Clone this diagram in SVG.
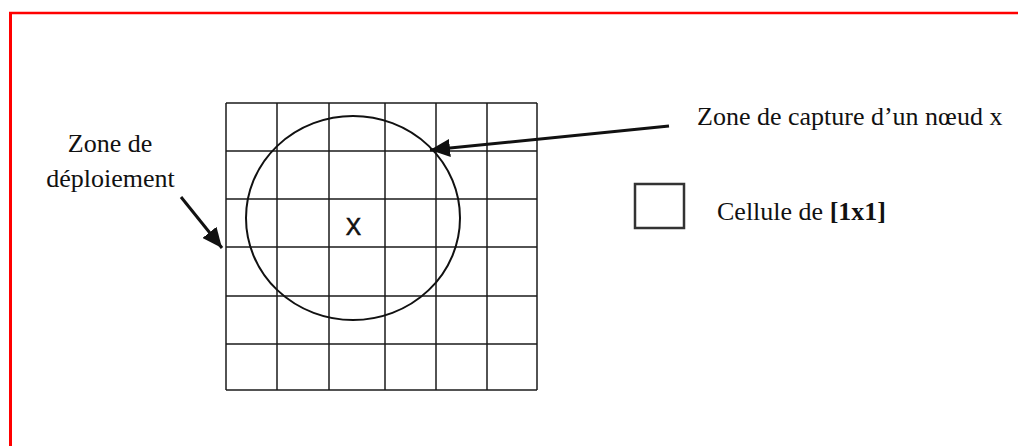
<svg xmlns="http://www.w3.org/2000/svg" width="1018" height="446" viewBox="0 0 1018 446">
  <style>
    .serif { font-family: "Liberation Serif", "Times New Roman", serif; font-size: 26px; fill: #111; }
    .grid line { stroke: #1a1a1a; stroke-width: 1.5; }
    .conn { stroke: #111; stroke-width: 3; fill: none; }
  </style>
  <defs>
    <marker id="ah" markerUnits="userSpaceOnUse" markerWidth="22" markerHeight="18" refX="20" refY="9" orient="auto">
      <path d="M0,0 L20,9 L0,18 Z" fill="#111"/>
    </marker>
  </defs>
  <rect width="1018" height="446" fill="#fff"/>
  <g id="frame">
    <line x1="9" y1="13" x2="1018" y2="13" stroke="#ff0000" stroke-width="2.6"/>
    <line x1="10.5" y1="12" x2="10.5" y2="446" stroke="#ff0000" stroke-width="3"/>
  </g>
  <g id="grid" class="grid">
    <line x1="226" y1="103" x2="226" y2="390"/>
    <line x1="277" y1="103" x2="277" y2="390"/>
    <line x1="329" y1="103" x2="329" y2="390"/>
    <line x1="385" y1="103" x2="385" y2="390"/>
    <line x1="436" y1="103" x2="436" y2="390"/>
    <line x1="487" y1="103" x2="487" y2="390"/>
    <line x1="537" y1="103" x2="537" y2="390"/>
    <line x1="226" y1="103" x2="537" y2="103"/>
    <line x1="226" y1="151" x2="537" y2="151"/>
    <line x1="226" y1="199" x2="537" y2="199"/>
    <line x1="226" y1="247" x2="537" y2="247"/>
    <line x1="226" y1="296" x2="537" y2="296"/>
    <line x1="226" y1="344" x2="537" y2="344"/>
    <line x1="226" y1="390" x2="537" y2="390"/>
  </g>
  <g id="capture-zone">
    <ellipse cx="353" cy="218" rx="107" ry="102" fill="none" stroke="#111" stroke-width="2"/>
    <text x="353.5" y="235" text-anchor="middle" font-family="Liberation Sans, Arial, sans-serif" font-size="23" fill="#111" stroke="#111" stroke-width="0.6">X</text>
  </g>
  <g id="label-capture">
    <text class="serif" x="697" y="125">Zone de capture d’un nœud x</text>
  </g>
  <g id="label-deploiement">
    <text class="serif" x="110" y="152" text-anchor="middle">Zone de</text>
    <text class="serif" x="110.5" y="187" text-anchor="middle">déploiement</text>
  </g>
  <g id="legend-cell">
    <rect x="635" y="184" width="49" height="44" fill="none" stroke="#333" stroke-width="2.5"/>
    <text class="serif" x="717" y="220">Cellule de <tspan font-weight="bold">[1x1]</tspan></text>
  </g>
  <g id="connectors">
    <line class="conn" x1="669" y1="126" x2="430" y2="150" marker-end="url(#ah)"/>
    <line class="conn" x1="181" y1="197" x2="222" y2="248" marker-end="url(#ah)"/>
  </g>
</svg>
